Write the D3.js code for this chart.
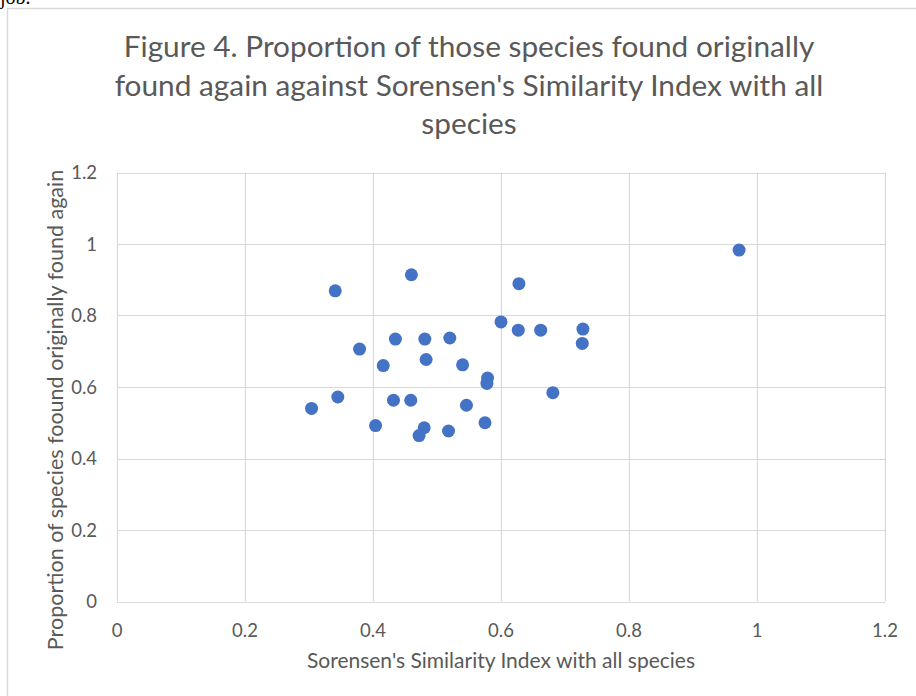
<!DOCTYPE html>
<html>
<head>
<meta charset="utf-8">
<script src="https://cdn.jsdelivr.net/npm/d3@7"></script>
<style>
  body { margin: 0; background: #fff; }
  text { font-family: Lato, "Open Sans", sans-serif; }
</style>
</head>
<body>
<svg class="chart" width="916" height="696"></svg>
<script>
// similarity index (x) vs proportion found again (y)
var sim_index = [0.341, 0.460, 0.628, 0.600, 0.627, 0.662, 0.728, 0.727, 0.435, 0.481,
                 0.520, 0.379, 0.483, 0.416, 0.540, 0.579, 0.578, 0.681, 0.345, 0.304,
                 0.432, 0.459, 0.546, 0.404, 0.575, 0.480, 0.472, 0.518, 0.972];
var prop_found = [0.869, 0.914, 0.889, 0.782, 0.759, 0.759, 0.762, 0.722, 0.734, 0.734,
                  0.737, 0.706, 0.677, 0.660, 0.662, 0.625, 0.610, 0.584, 0.572, 0.540,
                  0.563, 0.563, 0.549, 0.492, 0.500, 0.486, 0.464, 0.477, 0.983];
var x_ticks = [0, 0.2, 0.4, 0.6, 0.8, 1, 1.2];
var y_ticks = [0, 0.2, 0.4, 0.6, 0.8, 1, 1.2];
var title_lines = ["Figure 4. Proportion of those species found originally",
                   "found again against Sorensen's Similarity Index with all",
                   "species"];

var text_color = '#595959';
var grid_color = '#d9d9d9';
var point_color = '#4472C4';

var svg = d3.select(".chart");

var x = d3.scaleLinear().domain([0, 1.2]).range([117, 885]);
var y = d3.scaleLinear().domain([0, 1.2]).range([601.5, 172.5]);

// frame of the chart object (page text above is cut off)
svg.append("text")
    .attr("x", 0).attr("y", 4)
    .style("font-family", "Liberation Serif, serif")
    .attr("font-size", 20)
    .attr("fill", "#000")
    .text("job.");

svg.append("path")
    .attr("d", "M7.5,700 V8.5 H920")
    .attr("fill", "none")
    .attr("stroke", grid_color)
    .attr("stroke-width", 1.5);

// title
svg.append("g")
    .selectAll("text")
    .data(title_lines)
    .enter()
    .append("text")
    .attr("x", 469)
    .attr("y", function(d, i) { return 57 + i * 38.7; })
    .attr("text-anchor", "middle")
    .attr("font-size", 29.8)
    .attr("fill", text_color)
    .text(function(d) { return d; });

// gridlines
svg.append("g")
    .selectAll("line")
    .data(y_ticks)
    .enter()
    .append("line")
    .attr("x1", x(0)).attr("x2", x(1.2))
    .attr("y1", function(d) { return Math.round(y(d)) + 0.5; })
    .attr("y2", function(d) { return Math.round(y(d)) + 0.5; })
    .attr("stroke", grid_color)
    .attr("stroke-width", 1.2);

svg.append("g")
    .selectAll("line")
    .data(x_ticks)
    .enter()
    .append("line")
    .attr("y1", y(0)).attr("y2", y(1.2))
    .attr("x1", function(d) { return Math.round(x(d)) + 0.5; })
    .attr("x2", function(d) { return Math.round(x(d)) + 0.5; })
    .attr("stroke", grid_color)
    .attr("stroke-width", 1.2);

// tick labels
svg.append("g")
    .selectAll("text")
    .data(x_ticks)
    .enter()
    .append("text")
    .attr("x", function(d) { return x(d); })
    .attr("y", 637)
    .attr("text-anchor", "middle")
    .attr("font-size", 18.5)
    .attr("fill", text_color)
    .text(function(d) { return d; });

svg.append("g")
    .selectAll("text")
    .data(y_ticks)
    .enter()
    .append("text")
    .attr("x", 97)
    .attr("y", function(d) { return y(d) + 6.5; })
    .attr("text-anchor", "end")
    .attr("font-size", 18.5)
    .attr("fill", text_color)
    .text(function(d) { return d; });

// axis titles
svg.append("text")
    .attr("x", 501)
    .attr("y", 668)
    .attr("text-anchor", "middle")
    .attr("font-size", 21)
    .attr("fill", text_color)
    .text("Sorensen's Similarity Index with all species");

svg.append("text")
    .attr("transform", "translate(63,410) rotate(-90)")
    .attr("text-anchor", "middle")
    .attr("font-size", 21.5)
    .attr("fill", text_color)
    .text("Proportion of species foound originally found again");

// points
svg.append("g")
    .selectAll("circle")
    .data(sim_index)
    .enter()
    .append("circle")
    .attr("cx", function(d) { return x(d); })
    .attr("cy", function(d, i) { return y(prop_found[i]); })
    .attr("r", 6.5)
    .attr("fill", point_color);
</script>
</body>
</html>
